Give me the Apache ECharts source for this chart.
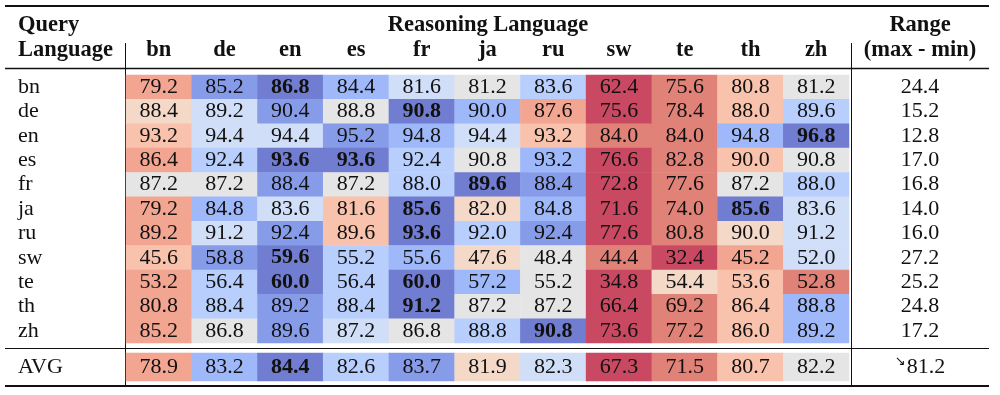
<!DOCTYPE html>
<html>
<head>
<meta charset="utf-8">
<script src="https://cdn.jsdelivr.net/npm/echarts@6/dist/echarts.min.js"></script>
<style>html,body{margin:0;padding:0;background:#fff}#c{width:1000px;height:395px}</style>
</head>
<body>
<div id="c"></div>
<script>
const reasoningLangs = ['bn','de','en','es','fr','ja','ru','sw','te','th','zh'];
const queryLangs = ['bn','de','en','es','fr','ja','ru','sw','te','th','zh'];
const scoresBn = [79.2, 85.2, 86.8, 84.4, 81.6, 81.2, 83.6, 62.4, 75.6, 80.8, 81.2];
const scoresDe = [88.4, 89.2, 90.4, 88.8, 90.8, 90.0, 87.6, 75.6, 78.4, 88.0, 89.6];
const scoresEn = [93.2, 94.4, 94.4, 95.2, 94.8, 94.4, 93.2, 84.0, 84.0, 94.8, 96.8];
const scoresEs = [86.4, 92.4, 93.6, 93.6, 92.4, 90.8, 93.2, 76.6, 82.8, 90.0, 90.8];
const scoresFr = [87.2, 87.2, 88.4, 87.2, 88.0, 89.6, 88.4, 72.8, 77.6, 87.2, 88.0];
const scoresJa = [79.2, 84.8, 83.6, 81.6, 85.6, 82.0, 84.8, 71.6, 74.0, 85.6, 83.6];
const scoresRu = [89.2, 91.2, 92.4, 89.6, 93.6, 92.0, 92.4, 77.6, 80.8, 90.0, 91.2];
const scoresSw = [45.6, 58.8, 59.6, 55.2, 55.6, 47.6, 48.4, 44.4, 32.4, 45.2, 52.0];
const scoresTe = [53.2, 56.4, 60.0, 56.4, 60.0, 57.2, 55.2, 34.8, 54.4, 53.6, 52.8];
const scoresTh = [80.8, 88.4, 89.2, 88.4, 91.2, 87.2, 87.2, 66.4, 69.2, 86.4, 88.8];
const scoresZh = [85.2, 86.8, 89.6, 87.2, 86.8, 88.8, 90.8, 73.6, 77.2, 86.0, 89.2];
const rangeValues = [24.4, 15.2, 12.8, 17.0, 16.8, 14.0, 16.0, 27.2, 25.2, 24.8, 17.2];
const avgLabel = ['AVG'];
const avgValues = [78.9, 83.2, 84.4, 82.6, 83.7, 81.9, 82.3, 67.3, 71.5, 80.7, 82.2];
const avgRangeValue = 81.2;
const avgRangeArrow = '\u2198';

const scoreRows = [scoresBn, scoresDe, scoresEn, scoresEs, scoresFr, scoresJa, scoresRu, scoresSw, scoresTe, scoresTh, scoresZh];

// matplotlib coolwarm (Moreland), 33 steps
const coolwarm = [[59,76,192],[68,90,204],[77,104,215],[87,117,225],[98,130,234],[108,142,241],[119,154,247],[130,165,251],[141,176,254],[152,185,255],[163,194,255],[174,201,253],[184,208,249],[194,213,244],[203,216,236],[212,219,227],[221,221,221],[229,216,209],[236,211,197],[241,204,184],[245,196,172],[247,187,160],[247,177,148],[247,166,135],[244,154,123],[241,141,111],[236,127,99],[229,112,88],[222,96,77],[213,80,66],[203,62,56],[192,40,47],[180,4,38]];
const ALPHA = 0.72;
const cmapColors = coolwarm.slice().reverse().map(c => {
  const b = c.map(v => Math.round(v * ALPHA + 250 * (1 - ALPHA)));
  return 'rgb(' + b.join(',') + ')';
});

function rankNorm(row, v) {
  const r = row.filter(x => x <= v + 1e-9).length; // 'max' rank
  return (r - 1) / (row.length - 1);
}
function buildCells(rows) {
  const out = [];
  rows.forEach((row, y) => {
    const mx = Math.max(...row);
    row.forEach((v, x) => {
      out.push([x, y, rankNorm(row, v), v, v === mx ? 1 : 0]);
    });
  });
  return out;
}
const mainCells = buildCells(scoreRows);
const avgCells = buildCells([avgValues]);
const rangeCells = rangeValues.map((v, y) => [0, y, v]);

const FONT = '"Liberation Serif", "Times New Roman", serif';
const FS = 22;
const cellLabel = {
  show: true,
  fontFamily: FONT,
  fontSize: FS,
  color: '#111',
  formatter: p => (p.value[4] ? '{b|' : '{n|') + p.value[3].toFixed(1) + '}',
  rich: {
    b: {fontFamily: FONT, fontSize: FS, fontWeight: 'bold', color: '#111'},
    n: {fontFamily: FONT, fontSize: FS, color: '#111'}
  }
};

const hiddenCat = (data, extra) => Object.assign({
  type: 'category', data: data,
  axisLine: {show: false}, axisTick: {show: false}, splitLine: {show: false},
  axisLabel: {show: false}
}, extra || {});

const chart = echarts.init(document.getElementById('c'), null, {renderer: 'canvas'});
chart.setOption({
  animation: false,
  backgroundColor: '#fff',
  grid: [
    {left: 126, top: 75, width: 723, height: 268},
    {left: 126, top: 353, width: 723, height: 28},
    {left: 852, top: 75, width: 136, height: 268},
    {left: 852, top: 353, width: 136, height: 28}
  ],
  xAxis: [
    hiddenCat(reasoningLangs, {gridIndex: 0, position: 'top',
      axisLabel: {show: true, interval: 0, fontFamily: FONT, fontSize: 22.5, fontWeight: 'bold', color: '#111', margin: 25, verticalAlign: 'middle'}}),
    hiddenCat(reasoningLangs, {gridIndex: 1}),
    hiddenCat(['range'], {gridIndex: 2}),
    hiddenCat(['range'], {gridIndex: 3})
  ],
  yAxis: [
    hiddenCat(queryLangs, {gridIndex: 0, inverse: true,
      axisLabel: {show: true, interval: 0, fontFamily: FONT, fontSize: FS, color: '#111', align: 'left', margin: 108}}),
    hiddenCat(avgLabel, {gridIndex: 1,
      axisLabel: {show: true, interval: 0, fontFamily: FONT, fontSize: FS, color: '#111', align: 'left', margin: 108}}),
    hiddenCat(queryLangs, {gridIndex: 2, inverse: true}),
    hiddenCat(avgLabel, {gridIndex: 3})
  ],
  visualMap: {
    type: 'continuous', show: false, min: 0, max: 1, dimension: 2,
    seriesIndex: [0, 1], inRange: {color: cmapColors}
  },
  series: [
    {type: 'heatmap', xAxisIndex: 0, yAxisIndex: 0, data: mainCells, label: cellLabel, emphasis: {disabled: true}},
    {type: 'heatmap', xAxisIndex: 1, yAxisIndex: 1, data: avgCells, label: cellLabel, emphasis: {disabled: true}},
    {type: 'heatmap', xAxisIndex: 2, yAxisIndex: 2, data: rangeCells,
      itemStyle: {color: 'rgba(0,0,0,0)'}, emphasis: {disabled: true},
      label: {show: true, fontFamily: FONT, fontSize: FS, color: '#111', formatter: p => p.value[2].toFixed(1)}},
    {type: 'heatmap', xAxisIndex: 3, yAxisIndex: 3, data: [[0, 0, avgRangeValue]],
      itemStyle: {color: 'rgba(0,0,0,0)'}, emphasis: {disabled: true},
      label: {show: true, fontFamily: FONT, fontSize: FS, color: '#111',
        formatter: p => '{a|' + avgRangeArrow + '}{v|' + p.value[2].toFixed(1) + '}',
        rich: {
          a: {fontFamily: '"DejaVu Sans", sans-serif', fontSize: 13, color: '#111', padding: [0, 1, 10, 0]},
          v: {fontFamily: FONT, fontSize: FS, color: '#111'}
        }}}
  ],
  graphic: [
    {type: 'line', shape: {x1: 5, y1: 6, x2: 989, y2: 6}, style: {stroke: '#111', lineWidth: 2}},
    {type: 'line', shape: {x1: 5, y1: 68.5, x2: 989, y2: 68.5}, style: {stroke: '#111', lineWidth: 1.3}},
    {type: 'line', shape: {x1: 5, y1: 348.5, x2: 989, y2: 348.5}, style: {stroke: '#111', lineWidth: 1}},
    {type: 'line', shape: {x1: 5, y1: 386, x2: 989, y2: 386}, style: {stroke: '#111', lineWidth: 2}},
    {type: 'line', shape: {x1: 125.5, y1: 43, x2: 125.5, y2: 385}, style: {stroke: '#111', lineWidth: 1}},
    {type: 'line', shape: {x1: 851.5, y1: 43, x2: 851.5, y2: 385}, style: {stroke: '#111', lineWidth: 1}},
    {type: 'text', x: 18, y: 25, style: {text: 'Query', font: 'bold 22.5px ' + FONT, fill: '#111', verticalAlign: 'middle'}},
    {type: 'text', x: 18, y: 50, style: {text: 'Language', font: 'bold 22.5px ' + FONT, fill: '#111', verticalAlign: 'middle'}},
    {type: 'text', x: 488, y: 25, style: {text: 'Reasoning Language', font: 'bold 22.5px ' + FONT, fill: '#111', align: 'center', verticalAlign: 'middle'}},
    {type: 'text', x: 920, y: 25, style: {text: 'Range', font: 'bold 22.5px ' + FONT, fill: '#111', align: 'center', verticalAlign: 'middle'}},
    {type: 'text', x: 920, y: 50, style: {text: '(max - min)', font: 'bold 22.5px ' + FONT, fill: '#111', align: 'center', verticalAlign: 'middle'}}
  ]
});
</script>
</body>
</html>
